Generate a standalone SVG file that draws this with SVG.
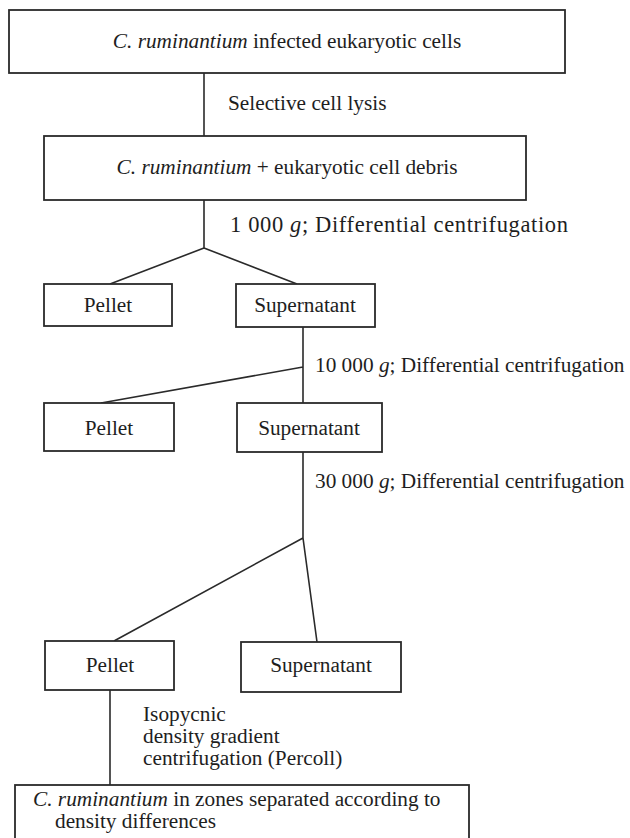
<svg xmlns="http://www.w3.org/2000/svg" width="630" height="838" viewBox="0 0 630 838">
<style>
  .box { fill: #ffffff; stroke: #2a2a2a; stroke-width: 1.8; }
  .ln { fill: none; stroke: #2a2a2a; stroke-width: 1.6; }
  text { font-family: "Liberation Serif", "Times New Roman", serif; font-size: 21.3px; fill: #1e1e1e; }
  .c { text-anchor: middle; }
  .i { font-style: italic; }
</style>
<rect width="630" height="838" fill="#ffffff"/>
<g id="connectors">
  <path class="ln" d="M204 73 V136"/>
  <path class="ln" d="M204 200 V248 M204 248 L110 284 M204 248 L297 284"/>
  <path class="ln" d="M303 327 V403 M303 367 L101 403"/>
  <path class="ln" d="M303 452 V538 M303 538 L114 641 M303 538 L317 642"/>
  <path class="ln" d="M110 690 V785"/>
</g>
<g id="labels">
  <text x="228" y="110">Selective cell lysis</text>
  <text x="230" y="232" style="font-size:22.5px" textLength="338" lengthAdjust="spacing">1 000 <tspan class="i">g</tspan>; Differential centrifugation</text>
  <text x="315" y="372">10 000 <tspan class="i">g</tspan>; Differential centrifugation</text>
  <text x="315" y="488">30 000 <tspan class="i">g</tspan>; Differential centrifugation</text>
  <text x="143" y="721">Isopycnic</text>
  <text x="143" y="743">density gradient</text>
  <text x="143" y="765">centrifugation (Percoll)</text>
</g>
<g id="infected-cells">
  <rect class="box" x="9" y="10" width="556" height="63"/>
  <text class="c" x="287" y="48"><tspan class="i">C. ruminantium</tspan> infected eukaryotic cells</text>
</g>
<g id="lysate">
  <rect class="box" x="44" y="136" width="482" height="64"/>
  <text class="c" x="287" y="174"><tspan class="i">C. ruminantium</tspan> + eukaryotic cell debris</text>
</g>
<g id="pellet-1">
  <rect class="box" x="44" y="284" width="128" height="42"/>
  <text class="c" x="108" y="312">Pellet</text>
</g>
<g id="supernatant-1">
  <rect class="box" x="236" y="284" width="139" height="43"/>
  <text class="c" x="305" y="312">Supernatant</text>
</g>
<g id="pellet-2">
  <rect class="box" x="44" y="403" width="130" height="48"/>
  <text class="c" x="109" y="435">Pellet</text>
</g>
<g id="supernatant-2">
  <rect class="box" x="237" y="403" width="145" height="49"/>
  <text class="c" x="309" y="435">Supernatant</text>
</g>
<g id="pellet-3">
  <rect class="box" x="45" y="641" width="129" height="49"/>
  <text class="c" x="110" y="672">Pellet</text>
</g>
<g id="supernatant-3">
  <rect class="box" x="241" y="642" width="160" height="50"/>
  <text class="c" x="321" y="672">Supernatant</text>
</g>
<g id="zones">
  <rect class="box" x="15" y="785" width="454" height="70"/>
  <text x="33" y="806"><tspan class="i">C. ruminantium</tspan> in zones separated according to</text>
  <text x="55" y="828">density differences</text>
</g>
</svg>
